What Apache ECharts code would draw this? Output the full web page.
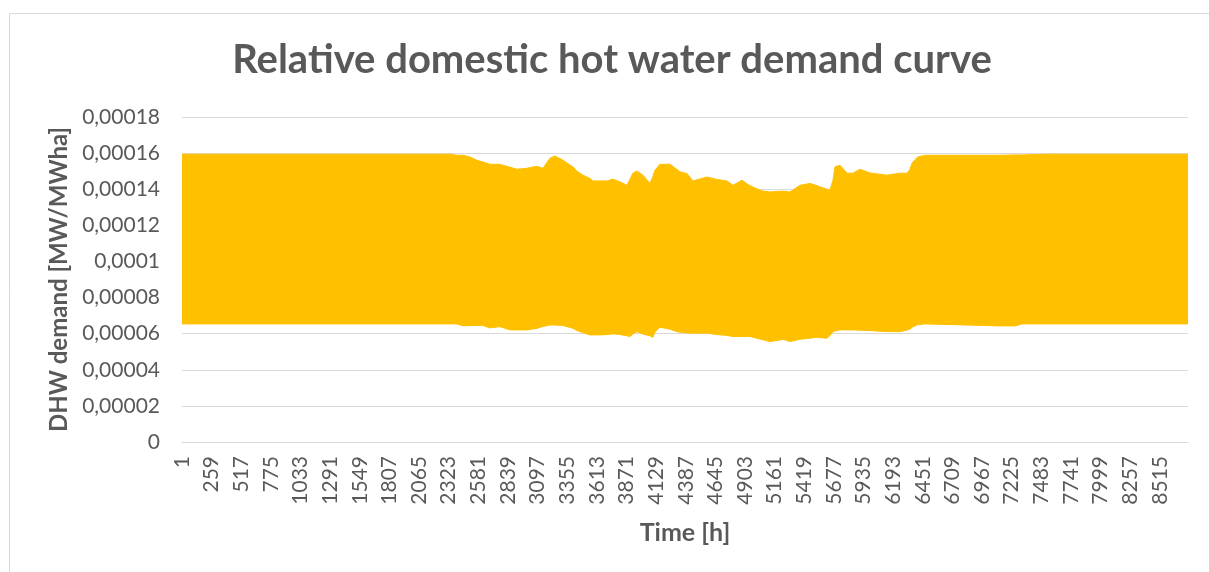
<!DOCTYPE html>
<html>
<head>
<meta charset="utf-8">
<title>Relative domestic hot water demand curve</title>
<script src="https://cdn.jsdelivr.net/npm/echarts@6/dist/echarts.min.js"></script>
<style>
  html, body { margin: 0; padding: 0; background: #fff; }
  #chart { width: 1209px; height: 572px; }
</style>
</head>
<body>
<div id="chart"></div>
<script>
// Envelope of the hourly DHW profile (upper = daily peaks, lower = daily lows)
const hours = [1, 2334, 2395, 2447, 2508, 2569, 2621, 2682, 2769, 2856, 2917, 3004, 3091, 3144, 3205, 3248,
  3318, 3353, 3405, 3440, 3492, 3553, 3579, 3640, 3701, 3753, 3814, 3875, 3901, 3927, 3962, 4014, 4075,
  4101, 4119, 4162, 4250, 4310, 4337, 4398, 4450, 4572, 4659, 4746, 4798, 4877, 4929, 4946, 5033, 5059,
  5120, 5207, 5234, 5295, 5382, 5469, 5530, 5556, 5617, 5643, 5669, 5686, 5730, 5791, 5843, 5904, 5991,
  6139, 6252, 6313, 6339, 6357, 6400, 6409, 6470, 7123, 7254, 7315, 7559, 8760];

const upper = [1.594, 1.594, 1.588, 1.588, 1.579, 1.560, 1.551, 1.538, 1.538, 1.522, 1.511, 1.516, 1.527, 1.516, 1.572, 1.584,
  1.561, 1.545, 1.524, 1.500, 1.478, 1.460, 1.446, 1.446, 1.446, 1.456, 1.441, 1.422, 1.455, 1.489, 1.501, 1.478, 1.433,
  1.470, 1.505, 1.538, 1.538, 1.510, 1.496, 1.487, 1.446, 1.468, 1.454, 1.446, 1.422, 1.450, 1.426, 1.420, 1.395, 1.390,
  1.385, 1.389, 1.389, 1.385, 1.422, 1.432, 1.420, 1.413, 1.400, 1.395, 1.450, 1.524, 1.533, 1.489, 1.489, 1.511, 1.490,
  1.478, 1.489, 1.489, 1.510, 1.544, 1.575, 1.579, 1.588, 1.588, 1.590, 1.590, 1.594, 1.594].map(v => v * 1e-4);

const lower = [6.54, 6.54, 6.54, 6.43, 6.45, 6.46, 6.45, 6.32, 6.39, 6.21, 6.21, 6.21, 6.29, 6.40, 6.48, 6.48,
  6.45, 6.39, 6.30, 6.17, 6.05, 5.93, 5.93, 5.93, 5.95, 5.99, 5.95, 5.88, 5.84, 5.98, 6.11, 5.98, 5.88,
  5.80, 6.10, 6.36, 6.25, 6.11, 6.08, 6.04, 6.03, 6.03, 5.95, 5.90, 5.84, 5.84, 5.84, 5.84, 5.70, 5.66,
  5.56, 5.65, 5.69, 5.56, 5.69, 5.75, 5.80, 5.78, 5.75, 5.90, 6.11, 6.15, 6.21, 6.21, 6.21, 6.19, 6.17,
  6.11, 6.11, 6.20, 6.25, 6.35, 6.48, 6.50, 6.54, 6.43, 6.43, 6.54, 6.54, 6.54].map(v => v * 1e-5);

const yTicks = { min: 0, max: 0.00018, step: 0.00002 };
const xTicks = { first: 1, last: 8760, step: 258 };

const FONT = 'Lato';
const TEXT = '#595959';
const GRIDLINE = '#d9d9d9';
const GOLD = '#FFC000';

const chart = echarts.init(document.getElementById('chart'));

// one row per sample: [hour, upper, lower]
const bandData = hours.map((h, i) => [h, upper[i], lower[i]]);

function decimalComma(v) {
  return parseFloat(v.toPrecision(10)).toString().replace('.', ',');
}

// draw the whole band as a single polygon: upper edge left->right, lower edge back
function renderBand(params, api) {
  if (params.dataIndex !== 0) return;
  const pts = [];
  for (let i = 0; i < bandData.length; i++) {
    pts.push(api.coord([bandData[i][0], bandData[i][1]]));
  }
  for (let i = bandData.length - 1; i >= 0; i--) {
    pts.push(api.coord([bandData[i][0], bandData[i][2]]));
  }
  return {
    type: 'polygon',
    shape: { points: pts },
    style: { fill: GOLD, stroke: GOLD, lineWidth: 1 }
  };
}

chart.setOption({
  animation: false,
  textStyle: { fontFamily: FONT },
  graphic: [{
    type: 'rect',
    left: 7, top: 11,
    shape: { width: 1300, height: 700 },
    style: { fill: 'none', stroke: '#d9d9d9', lineWidth: 1 },
    silent: true
  }],
  title: {
    text: 'Relative domestic hot water demand curve',
    left: 607,
    top: 35,
    textAlign: 'center',
    textStyle: { fontFamily: FONT, fontSize: 40, fontWeight: 'bold', color: TEXT }
  },
  grid: { left: 182, right: 21, top: 117, bottom: 130 },
  xAxis: {
    type: 'value',
    min: xTicks.first,
    max: xTicks.last,
    interval: xTicks.step,
    name: 'Time [h]',
    nameLocation: 'middle',
    nameGap: 78,
    nameTextStyle: { fontFamily: FONT, fontSize: 25, fontWeight: 'bold', color: TEXT },
    axisLine: { show: true, lineStyle: { color: GRIDLINE, width: 1 } },
    axisTick: { show: false },
    splitLine: { show: false },
    axisLabel: {
      rotate: 90,
      margin: 14,
      showMaxLabel: false,
      fontFamily: FONT, fontSize: 21, color: TEXT,
      formatter: v => String(Math.round(v))
    }
  },
  yAxis: {
    type: 'value',
    min: yTicks.min,
    max: yTicks.max,
    interval: yTicks.step,
    name: 'DHW demand [MW/MWha]',
    nameLocation: 'middle',
    nameGap: 110,
    nameTextStyle: { fontFamily: FONT, fontSize: 24, fontWeight: 'bold', color: TEXT },
    axisLine: { show: false },
    axisTick: { show: false },
    splitLine: { show: true, lineStyle: { color: GRIDLINE, width: 1 } },
    axisLabel: {
      margin: 22,
      fontFamily: FONT, fontSize: 21, color: TEXT,
      formatter: decimalComma
    }
  },
  series: [{
    name: 'DHW demand',
    type: 'custom',
    renderItem: renderBand,
    data: bandData,
    encode: { x: 0, y: [1, 2] },
    clip: true,
    silent: true
  }]
});
</script>
</body>
</html>
